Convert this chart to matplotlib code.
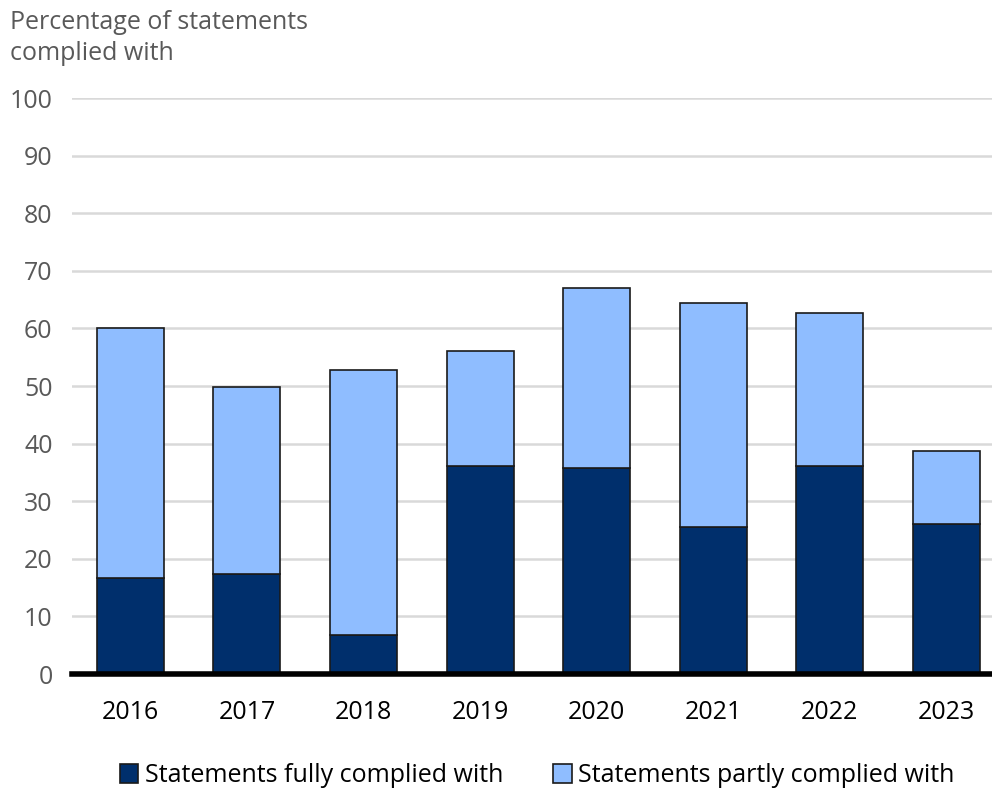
import matplotlib.pyplot as plt
import numpy as np

years = ["2016", "2017", "2018", "2019", "2020", "2021", "2022", "2023"]
fully = [16.7, 17.4, 6.8, 36.1, 35.8, 25.5, 36.1, 26.0]
total = [60.0, 49.9, 52.8, 56.1, 67.0, 64.4, 62.7, 38.8]
partly = [t - f for t, f in zip(total, fully)]

plt.rcParams['font.family'] = ['Open Sans', 'DejaVu Sans']

dark = "#002f6c"
light = "#8fbdff"

fig = plt.figure(figsize=(9.92, 7.92), dpi=100)
ax = fig.add_axes([72 / 992, 1 - 674 / 792, 920 / 992, 576 / 792])

x = np.arange(len(years))
w = 0.575
ax.bar(x, fully, w, color=dark, edgecolor="#1a1a1a", linewidth=1.2,
       label="Statements fully complied with", zorder=3)
ax.bar(x, partly, w, bottom=fully, color=light, edgecolor="#1a1a1a", linewidth=1.2,
       label="Statements partly complied with", zorder=3)

ax.set_ylim(0, 100)
ax.set_xlim(-0.5, 7.39)
ax.set_yticks(range(0, 101, 10))
ax.set_xticks(x)
ax.set_xticklabels(years)
ax.yaxis.grid(True, color="#d9d9d9", linewidth=1.8, zorder=0)
ax.set_axisbelow(True)

for s in ["top", "right", "left"]:
    ax.spines[s].set_visible(False)
ax.spines["bottom"].set_linewidth(4)
ax.spines["bottom"].set_color("black")
ax.spines["bottom"].set_zorder(5)

ax.tick_params(axis="y", length=0, labelsize=18, labelcolor="#595959", pad=14)
ax.tick_params(axis="x", length=0, labelsize=18, labelcolor="black", pad=19)

fig.text(10 / 992, 1 - 38 / 792, "Percentage of statements\ncomplied with",
         fontsize=18, color="#595959", va="center", ha="left", linespacing=1.3)

fig.legend(loc="center", bbox_to_anchor=(537 / 992, 1 - 776 / 792), ncol=2,
           frameon=False, fontsize=18, handlelength=0.75, handleheight=0.8,
           handletextpad=0.25, columnspacing=2.0)

fig.savefig("out.png", dpi=100)
